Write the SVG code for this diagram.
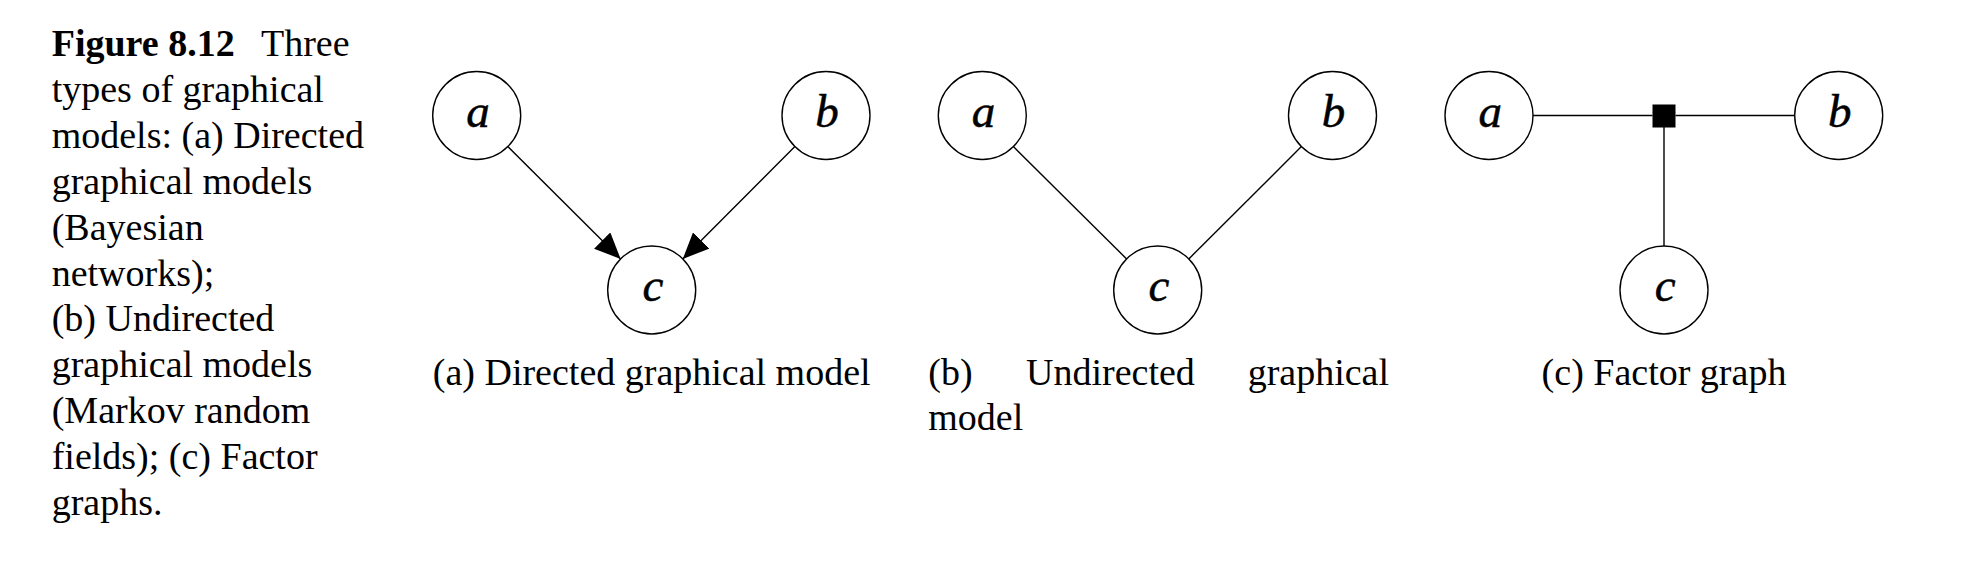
<svg xmlns="http://www.w3.org/2000/svg" width="1972" height="574" viewBox="0 0 1972 574">
<style>
.bg{fill:#ffffff}
.node{fill:#ffffff;stroke:#000000;stroke-width:1.4}
.edge{fill:none;stroke:#000000;stroke-width:1.4}
.factor{fill:#000000;stroke:none}
.var{font-family:"Liberation Serif","DejaVu Serif",serif;font-style:italic;font-size:47px;fill:#000000;stroke:#000000;stroke-width:0.5;text-anchor:middle}
.cap{font-family:"Liberation Serif","DejaVu Serif",serif;font-size:38px;fill:#000000}
.bold{font-weight:bold}
.mid{text-anchor:middle}
.end{text-anchor:end}
</style>
<defs>
<marker id="arrow" markerUnits="userSpaceOnUse" markerWidth="26" markerHeight="23" refX="26" refY="11.5" orient="auto">
<path d="M0,0 L26,11.5 L0,23 Z" fill="#000000"/>
</marker>
</defs>
<rect class="bg" x="0" y="0" width="1972" height="574"/>

<g id="figure-caption">
<text class="cap" x="51.7" y="56"><tspan class="bold">Figure 8.12</tspan><tspan x="261">Three</tspan></text>
<text class="cap" x="51.7" y="101.9">types of graphical</text>
<text class="cap" x="51.7" y="147.8">models: (a) Directed</text>
<text class="cap" x="51.7" y="193.7">graphical models</text>
<text class="cap" x="51.7" y="239.6">(Bayesian</text>
<text class="cap" x="51.7" y="285.5">networks);</text>
<text class="cap" x="51.7" y="331.4">(b) Undirected</text>
<text class="cap" x="51.7" y="377.3">graphical models</text>
<text class="cap" x="51.7" y="423.2">(Markov random</text>
<text class="cap" x="51.7" y="469.1">fields); (c) Factor</text>
<text class="cap" x="51.7" y="515">graphs.</text>
</g>

<g id="connectors">
<line class="edge" x1="507.8" y1="146.6" x2="620.6" y2="258.9" marker-end="url(#arrow)"/>
<line class="edge" x1="794.9" y1="146.6" x2="682.8" y2="258.9" marker-end="url(#arrow)"/>
<line class="edge" x1="1013.4" y1="146.6" x2="1126.6" y2="258.9"/>
<line class="edge" x1="1301.4" y1="146.6" x2="1188.8" y2="258.9"/>
<line class="edge" x1="1533" y1="115.5" x2="1652.5" y2="115.5"/>
<line class="edge" x1="1675.5" y1="115.5" x2="1794.7" y2="115.5"/>
<line class="edge" x1="1664" y1="127" x2="1664" y2="246"/>
</g>

<g id="dir-a"><circle class="node" cx="476.7" cy="115.5" r="44"/><text class="var" x="478" y="126.5">a</text></g>
<g id="dir-b"><circle class="node" cx="826" cy="115.5" r="44"/><text class="var" x="827" y="126.5">b</text></g>
<g id="dir-c"><circle class="node" cx="651.7" cy="290" r="44"/><text class="var" x="653" y="301">c</text></g>

<g id="und-a"><circle class="node" cx="982.3" cy="115.5" r="44"/><text class="var" x="983.6" y="126.5">a</text></g>
<g id="und-b"><circle class="node" cx="1332.5" cy="115.5" r="44"/><text class="var" x="1333.5" y="126.5">b</text></g>
<g id="und-c"><circle class="node" cx="1157.7" cy="290" r="44"/><text class="var" x="1159" y="301">c</text></g>

<g id="fac-a"><circle class="node" cx="1489" cy="115.5" r="44"/><text class="var" x="1490.3" y="126.5">a</text></g>
<g id="fac-b"><circle class="node" cx="1838.7" cy="115.5" r="44"/><text class="var" x="1839.7" y="126.5">b</text></g>
<g id="fac-f"><rect class="factor" x="1652.5" y="104.5" width="23" height="23"/></g>
<g id="fac-c"><circle class="node" cx="1664" cy="290" r="44"/><text class="var" x="1665.3" y="301">c</text></g>

<g id="subcaptions">
<text class="cap mid" x="651.7" y="385">(a) Directed graphical model</text>
<text class="cap" y="385"><tspan x="928.3">(b)</tspan><tspan x="1026">Undirected</tspan></text>
<text class="cap end" x="1389" y="385">graphical</text>
<text class="cap" x="928.3" y="430">model</text>
<text class="cap mid" x="1664" y="385">(c) Factor graph</text>
</g>
</svg>
